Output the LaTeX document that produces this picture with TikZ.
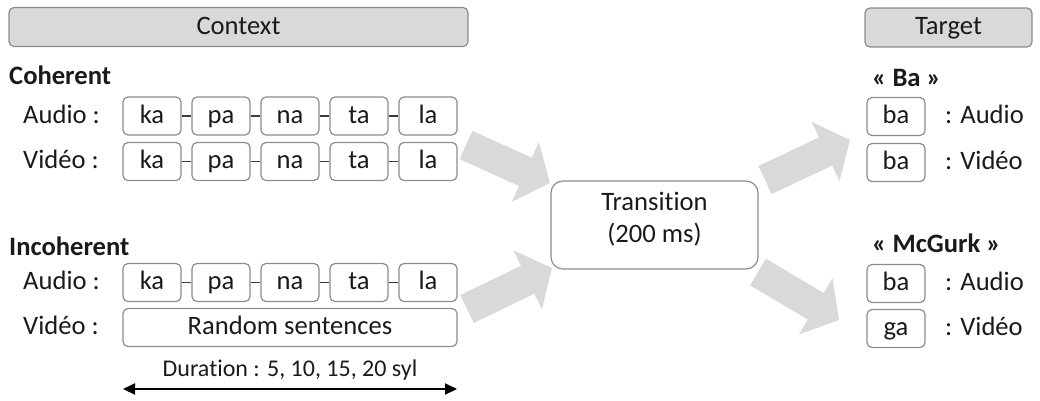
\documentclass[tikz,border=0pt]{standalone}
\usepackage{fontspec}
\setmainfont{Carlito}[Ligatures=NoCommon]
\usetikzlibrary{arrows.meta}
\definecolor{boxgray}{HTML}{8C8C8C}
\definecolor{hdrfill}{HTML}{D9D9D9}
\definecolor{arrgray}{HTML}{D9D9D9}
\definecolor{txt}{HTML}{1A1A1A}
\begin{document}
\begin{tikzpicture}[x=1pt,y=-1pt,
  every node/.style={font=\fontsize{26.6}{32}\selectfont, text=txt},
  hdr/.style={draw=boxgray, fill=hdrfill, line width=1.2pt, rounded corners=5pt, inner sep=0pt, minimum height=39pt, text height=19pt, text depth=5pt},
  syl/.style={draw=boxgray, line width=1.2pt, rounded corners=5pt, minimum width=58pt, minimum height=38pt, inner sep=0pt, text height=19pt, text depth=5pt},
  lbl/.style={anchor=base west, inner sep=0pt},
  ttl/.style={anchor=base west, inner sep=0pt, font=\fontsize{26.6}{32}\selectfont\bfseries},
  link/.style={draw=txt!85, line width=1.2pt},
  blk/.style={line width=31pt, draw=arrgray, -{Triangle[length=27pt,width=64pt]}},
  dur/.style={line width=2pt, draw=black, {Triangle[length=12pt,width=11pt]}-{Triangle[length=12pt,width=11pt]}},
]
\useasboundingbox (0,0) rectangle (1040,400);

% headers
\node[hdr, minimum width=459pt] (ctx) at (238.5,27) {Context};
\node[hdr, minimum width=167pt] (tgt) at (948.5,27.5) {Target};

% section titles
\node[ttl] (coh) at (9,84) {Coherent};
\node[ttl] (incoh) at (9,255) {Incoherent};

% row labels
\node[lbl] (la1) at (23,123) {Audio :};
\node[lbl] (lv1) at (23,168.5) {Vidéo :};
\node[lbl] (la2) at (23,289.5) {Audio :};
\node[lbl] (lv2) at (23,334.5) {Vidéo :};

% syllable rows
\foreach \s [count=\i] in {ka,pa,na,ta,la} {
  \node[syl] (ca\i) at ({152+(\i-1)*69},116) {\s};
  \node[syl] (cv\i) at ({152+(\i-1)*69},161.5) {\s};
  \node[syl] (ia\i) at ({152+(\i-1)*69},282.5) {\s};
}
\foreach \i/\j in {1/2,2/3,3/4,4/5} {
  \draw[link] (ca\i) -- (ca\j);
  \draw[link] (cv\i) -- (cv\j);
  \draw[link] (ia\i) -- (ia\j);
}
\node[syl, minimum width=334pt] (rand) at (290,327.5) {Random sentences};

% duration
\node[anchor=base, inner sep=0pt, font=\fontsize{24}{28}\selectfont] (durtxt) at (290,376) {Duration : 5, 10, 15, 20 syl};
\coordinate (dl) at (123,389);
\coordinate (dr) at (457,389);
\draw[dur] (dl) -- (dr);

% transition
\node[draw=boxgray, line width=1.2pt, rounded corners=12pt, minimum width=207pt, minimum height=88pt, inner sep=0pt, align=center, text height=51pt, text depth=17pt] (trans) at (654.5,225) {Transition\\(200 ms)};

% block arrows
\coordinate (a1s) at (466,145); \coordinate (a1e) at (550,183);
\coordinate (a2s) at (467,309); \coordinate (a2e) at (552,268);
\coordinate (a3s) at (765,180); \coordinate (a3e) at (850,140);
\coordinate (a4s) at (758,272); \coordinate (a4e) at (839,320);
\draw[blk] (a1s) -- (a1e);
\draw[blk] (a2s) -- (a2e);
\draw[blk] (a3s) -- (a3e);
\draw[blk] (a4s) -- (a4e);

% target side
\node[ttl] (tba) at (872,86) {« Ba »};
\node[ttl] (tmc) at (872,252) {« McGurk »};
\node[syl] (t1) at (896,116.5) {ba};
\node[syl] (t2) at (896,162.5) {ba};
\node[syl] (t3) at (896,283.5) {ba};
\node[syl] (t4) at (896,328.5) {ga};
\node[lbl] (tl1) at (945,123.5) {: Audio};
\node[lbl] (tl2) at (945,169.5) {: Vidéo};
\node[lbl] (tl3) at (945,290.5) {: Audio};
\node[lbl] (tl4) at (945,335.5) {: Vidéo};
\end{tikzpicture}
\end{document}
